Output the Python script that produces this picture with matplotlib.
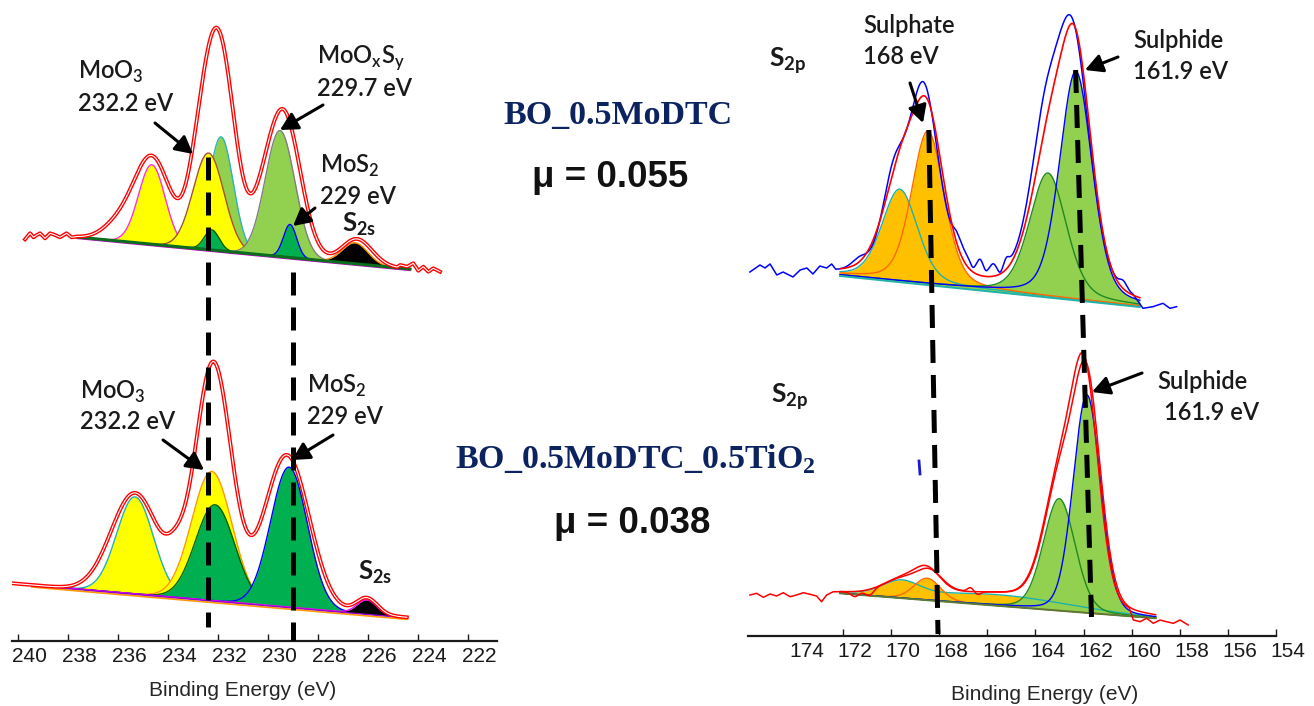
import numpy as np
import matplotlib
matplotlib.use("Agg")
import matplotlib.pyplot as plt
from matplotlib.transforms import ScaledTranslation, IdentityTransform
from matplotlib.patches import FancyArrowPatch
from matplotlib.lines import Line2D

W, H = 1314, 706

# ============================ DATA ============================
# ---- axes ----
mo_ticks = [240, 238, 236, 234, 232, 230, 228, 226, 224, 222]
mo_xlim = (240.264, 220.852)
s_ticks = [174, 172, 170, 168, 166, 164, 162, 160, 158, 156, 154]
s_xlim = (175.948, 154.003)

# ---- Mo 3d, BO_0.5MoDTC (upper left trace) ----
mo1_bg = [237.66, 404.0, 223.13, 369.1]          # background: E0, I0, E1, I1
mo1_range = [237.65, 224.33]
mo1_center = [231.89, 234.66, 232.39, 232.26, 229.53, 229.13, 226.53]
mo1_height = [114, 79.5, 96.6, 20, 126, 33, 21]
mo1_fwhm = [1.15, 1.25, 1.45, 0.7, 1.4, 0.62, 1.2]
mo1_raw_center = [236.0, 234.65, 232.8, 232.0, 230.3, 229.41, 226.45]
mo1_raw_height = [15, 87, 40, 212, 15, 146, 25]
mo1_raw_fwhm = [1.5, 1.7, 1.1, 1.5, 1.0, 1.6, 1.4]
mo1_raw_range = [237.66, 224.85]
mo1_tailL_E = [239.73, 239.53, 239.39, 239.26, 239.13, 238.93, 238.73, 238.53, 238.33, 238.07, 237.87]
mo1_tailL_I = [401.7, 407.7, 403.7, 406, 407.7, 402.7, 407.7, 406, 403.7, 407.7, 403.7]
mo1_tailR_E = [224.72, 224.45, 224.2, 224.0, 223.8, 223.6, 223.4, 223.13]
mo1_tailR_I = [376, 374.3, 377.7, 370.3, 374.3, 369.3, 372.7, 369.3]

# ---- Mo 3d, BO_0.5MoDTC_0.5TiO2 (lower left trace) ----
mo2_bg = [239.46, 56.0, 224.46, 23.7]
mo2_range = [239.46, 224.46]
mo2_center = [235.33, 232.26, 232.13, 229.17, 226.06]
mo2_height = [97, 129, 96, 140, 14]
mo2_fwhm = [1.73, 1.9, 1.85, 1.73, 0.9]
mo2_raw_center = [235.33, 233.7, 232.2, 229.26, 226.06]
mo2_raw_height = [101, 20, 238, 152, 16]
mo2_raw_fwhm = [2.24, 0.9, 1.7, 2.1, 1.0]
mo2_raw_range = [240.26, 224.46]

# ---- S 2p, BO_0.5MoDTC (upper right trace) ----
s1_bg = [172.12, 361.0, 159.66, 330.0]
s1_range = [172.12, 159.66]
s1_center = [169.64, 168.47, 163.48, 162.32]
s1_height = [92, 153, 123.5, 228]
s1_fwhm = [1.75, 1.6, 1.8, 1.6]
s1_raw_center = [171.3, 169.9, 168.65, 167.2, 166.2, 163.65, 162.45, 160.35,
                 167.3, 166.6, 166.3, 166.05, 165.75, 165.47, 165.2]
s1_raw_height = [10, 85, 190, 14, 12, 130, 252, 8,
                 4, -6, 6, -6, 3, -7, 6]
s1_raw_fwhm = [0.8, 1.2, 1.5, 0.7, 2.5, 1.5, 1.7, 0.4,
               0.3, 0.25, 0.25, 0.25, 0.25, 0.25, 0.25]
s1_raw_range = [172.3, 159.95]
s1_tailL_E = [175.87, 175.45, 175.24, 175.03, 174.75, 174.49, 174.08, 173.78, 173.5, 173.25, 172.96, 172.68, 172.47]
s1_tailL_I = [364, 371, 368, 372, 361, 364, 359, 366, 368, 362, 370, 368, 372]
s1_tailR_E = [159.53, 159.12, 158.7, 158.41, 158.13]
s1_tailR_I = [327.7, 329.3, 332.7, 327.7, 329.3]

# ---- S 2p, BO_0.5MoDTC_0.5TiO2 (lower right trace) ----
s2_bg = [172.12, 42.7, 159.0, 17.7]
s2_range = [172.12, 159.0]
s2_center = [165.5, 169.6, 168.5, 163.01, 161.86]
s2_height = [11, 14, 22, 112, 218]
s2_fwhm = [7.0, 1.8, 1.3, 1.55, 1.35]
s2_group = [0, 0, 1, 2, 3]
s2_raw_center = [171.5, 170.9, 169.6, 168.4, 165.5, 166.7, 166.4, 163.05, 161.95]
s2_raw_height = [-5, -6, 14, 20, 11, 4, -3, 110, 222]
s2_raw_fwhm = [0.4, 0.4, 1.8, 1.3, 7.0, 0.3, 0.3, 1.55, 1.35]
s2_raw_range = [172.12, 160.1]
s2_tailL_E = [175.87, 175.59, 175.31, 175.03, 174.76, 174.48, 174.2, 173.93, 173.65, 173.37, 173.1, 172.89, 172.68, 172.4]
s2_tailL_I = [41, 42.7, 38.7, 42, 40, 43.3, 39.3, 41, 43.3, 41.7, 40, 34.3, 41, 44.3]
s2_tailR_E = [159.93, 159.65, 159.38, 159.1, 158.82, 158.55, 158.27, 157.99, 157.65]
s2_tailR_I = [16, 14.3, 17.7, 12.7, 16, 14.3, 12.7, 16, 11]

# ---- reference (dashed) lines: (E_top, I_top, E_bottom, I_bottom) ----
mo_marks = [[232.41, 484, 232.41, 14], [229.01, 369, 229.01, 0]]
s_marks = [[168.43, 506, 168.05, 2], [162.33, 566, 161.67, 19]]

# ============================ STYLES ============================
YEL, LGR, DGR, ORG = "#ffff00", "#92d050", "#00b050", "#ffc000"
mo1_face = [LGR, YEL, YEL, DGR, LGR, DGR, "#000000"]
mo1_edge = ["#2bb5b5", "#ff33cc", "#a0522d", "#006400", "#808080", "#0000ff", "#ff8c00"]
mo2_face = [YEL, YEL, DGR, DGR, "#000000"]
mo2_edge = ["#20b2aa", "#ff9900", "#006400", "#0000ff", "#ff00ff"]
s1_face = [ORG, ORG, LGR, LGR]
s1_edge = ["#20b2aa", "#ff6a00", "#1f8a1f", "#0000ff"]
s2_face = [ORG, ORG, LGR, LGR]
s2_edge = ["#20b2aa", "#ff6a00", "#1f8a1f", "#0000ff"]

plt.rcParams["font.family"] = ["Lato", "DejaVu Sans"]
plt.rcParams["mathtext.fontset"] = "custom"
plt.rcParams["mathtext.rm"] = "Lato"


def pv(E, c, h, w, eta=0.0):
    x = (E - c) / w
    g = np.exp(-4 * np.log(2) * x ** 2)
    l = 1.0 / (1.0 + 4 * x ** 2)
    return h * ((1 - eta) * g + eta * l)


def linbg(E, bg):
    e0, i0, e1, i1 = bg
    return i0 + (E - e0) * (i1 - i0) / (e1 - e0)


def components(ax, rng, bg, cen, hei, fw, faces, edges, eta, groups=None,
               edges_on_top=False, z=2):
    E = np.linspace(rng[0], rng[1], 800)
    base = linbg(E, bg)
    if groups is None:
        groups = list(range(len(cen)))
    ng = max(groups) + 1
    parts = [np.zeros_like(E) for _ in range(ng)]
    for c, h, w, g in zip(cen, hei, fw, groups):
        parts[g] += pv(E, c, h, w, eta)
    total = np.zeros_like(E)
    for i, p in enumerate(parts):
        total += p
        ax.fill_between(E, base, base + p, color=faces[i], lw=0, zorder=z + i * 0.1)
        if not edges_on_top:
            ax.plot(E, base + p, color=edges[i], lw=1.0, zorder=z + i * 0.1 + 0.05)
    if edges_on_top:
        for i, p in enumerate(parts):
            ax.plot(E, base + p, color=edges[i], lw=1.0, zorder=z + 1)
    return E, base, total


def raw_curve(rng, bg, cen, hei, fw, eta, tl_E=(), tl_I=(), tr_E=(), tr_I=()):
    E = np.linspace(rng[0], rng[1], 700)
    I = linbg(E, bg)
    for c, h, w in zip(cen, hei, fw):
        I = I + pv(E, c, h, w, eta)
    Ex = np.concatenate([np.asarray(tl_E, float), E, np.asarray(tr_E, float)])
    Ix = np.concatenate([np.asarray(tl_I, float), I, np.asarray(tr_I, float)])
    return Ex, Ix


fig = plt.figure(figsize=(W / 100, H / 100), dpi=100)
fig.patch.set_facecolor("white")
axL = fig.add_axes([11.7 / W, (H - 641) / H, (497 - 11.7) / W, 641 / H])
axR = fig.add_axes([748 / W, (H - 636) / H, (1276 - 748) / W, 636 / H])

for ax, ticks, xl, top, offs in [(axL, mo_ticks, mo_xlim, 641, 11), (axR, s_ticks, s_xlim, 636, 12)]:
    ax.set_xlim(*xl)
    ax.set_ylim(0, top)
    ax.patch.set_alpha(0)
    for sp in ["top", "left", "right"]:
        ax.spines[sp].set_visible(False)
    ax.spines["bottom"].set_linewidth(1.6)
    ax.spines["bottom"].set_color("#1a1a1a")
    ax.yaxis.set_visible(False)
    ax.set_xticks(ticks)
    ax.set_xticklabels([str(t) for t in ticks])
    ax.tick_params(axis="x", direction="in", length=5, width=1.0, pad=4,
                   labelsize=15, colors="#1a1a1a")
    for lab in ax.get_xticklabels():
        lab.set_family("Liberation Sans")
        lab.set_transform(lab.get_transform() + ScaledTranslation(offs / 100, 0, fig.dpi_scale_trans))
    ax.set_xlabel("Binding Energy (eV)", fontsize=15, family="Liberation Sans", color="#262626")
    ax.xaxis.label.set_va("center")
axR.xaxis.get_major_ticks()[0].tick1line.set_visible(False)
axL.xaxis.set_label_coords((243 - 11.7) / 485.3, -(690 - 641) / 641)
axR.xaxis.set_label_coords((1045 - 748) / 528, -(695 - 636) / 636)

# ---------------- left: Mo 3d ----------------
components(axL, mo1_range, mo1_bg, mo1_center, mo1_height, mo1_fwhm, mo1_face, mo1_edge, 0.0)
Eb = np.linspace(mo1_range[0], mo1_range[1], 200)
axL.plot(Eb, linbg(Eb, mo1_bg) - 1.5, color="#cc00cc", lw=0.9, zorder=2.9)
axL.plot(Eb, linbg(Eb, mo1_bg), color="#0a6e1e", lw=2.2, zorder=2.95)
E, I = raw_curve(mo1_raw_range, mo1_bg, mo1_raw_center, mo1_raw_height, mo1_raw_fwhm, 0.0,
                 mo1_tailL_E, mo1_tailL_I, mo1_tailR_E, mo1_tailR_I)
axL.plot(E, I, color="#ff0000", lw=2.8, zorder=5)
axL.plot(E, I, color="white", lw=0.8, zorder=5.1)

components(axL, mo2_range, mo2_bg, mo2_center, mo2_height, mo2_fwhm, mo2_face, mo2_edge, 0.0)
Eb = np.linspace(mo2_range[0], mo2_range[1], 200)
axL.plot(Eb, linbg(Eb, mo2_bg) - 2.0, color="#ff9900", lw=1.2, zorder=2.8)
axL.plot(Eb, linbg(Eb, mo2_bg) - 0.5, color="#9900cc", lw=0.9, zorder=2.9)
E, I = raw_curve(mo2_raw_range, mo2_bg, mo2_raw_center, mo2_raw_height, mo2_raw_fwhm, 0.0)
axL.plot(E, I, color="#ff0000", lw=2.8, zorder=5)
axL.plot(E, I, color="white", lw=0.8, zorder=5.1)

# ---------------- right: S 2p ----------------
E, base, tot = components(axR, s1_range, s1_bg, s1_center, s1_height, s1_fwhm, s1_face, s1_edge,
                          0.3, edges_on_top=True)
axR.plot(E, base - 1, color="#20b2aa", lw=1.4, zorder=3.2)
Er, Ir = raw_curve(s1_raw_range, s1_bg, s1_raw_center, s1_raw_height, s1_raw_fwhm, 0.3,
                   s1_tailL_E, s1_tailL_I, s1_tailR_E, s1_tailR_I)
axR.plot(Er, Ir, color="#0000ff", lw=1.1, zorder=5)
axR.plot(E, base + tot, color="#ff0000", lw=1.2, zorder=5.2)

E, base, tot = components(axR, s2_range, s2_bg, s2_center, s2_height, s2_fwhm, s2_face, s2_edge,
                          0.15, groups=s2_group, edges_on_top=True)
axR.plot(E, base, color="#5a7a3a", lw=1.4, zorder=3.2)
Er, Ir = raw_curve(s2_raw_range, s2_bg, s2_raw_center, s2_raw_height, s2_raw_fwhm, 0.15,
                   s2_tailL_E, s2_tailL_I, s2_tailR_E, s2_tailR_I)
axR.plot(Er, Ir, color="#ff0000", lw=1.1, zorder=5)
axR.plot(E, base + tot, color="#ff0000", lw=1.1, zorder=5.2)

# ---------------- dashed reference lines ----------------
for ax, marks in [(axL, mo_marks), (axR, s_marks)]:
    for e0, i0, e1, i1 in marks:
        ln, = ax.plot([e0, e1], [i0, i1], color="black", lw=3.6, zorder=8,
                      solid_capstyle="butt", dash_capstyle="butt")
        ln.set_dashes([4.6, 2.4])

# ---------------- annotations ----------------
def px(x, y):
    return x / W, 1 - y / H

TXT = "#1a1a1a"
lab_fs = 17


def label(x, y, s, fs=lab_fs, weight="semibold", **kw):
    fig.text(*px(x, y), s, fontsize=fs, color=TXT, ha="left", va="baseline",
             weight=weight, family=["Lato", "DejaVu Sans"], **kw)


label(78, 79, r"MoO$_\mathregular{3}$")
label(78, 111, "232.2 eV")
label(317, 64, r"MoO$_\mathregular{x}$S$_\mathregular{y}$")
label(317, 96, "229.7 eV")
label(320, 173, r"MoS$_\mathregular{2}$")
label(320, 204, "229 eV")
label(342, 232, r"S$_\mathregular{2s}$", fs=18.5, weight="bold")

label(80, 399, r"MoO$_\mathregular{3}$")
label(80, 429, "232.2 eV")
label(307, 393, r"MoS$_\mathregular{2}$")
label(307, 424, "229 eV")
label(358, 580, r"S$_\mathregular{2s}$", fs=18.5, weight="bold")

label(863, 33, "Sulphate")
label(863, 64, "168 eV")
label(1133, 48, "Sulphide")
label(1133, 79, "161.9 eV")
label(769, 66, r"S$_\mathregular{2p}$", fs=19, weight="bold")
label(771, 403, r"S$_\mathregular{2p}$", fs=19, weight="bold")
label(1157, 389, "Sulphide")
label(1164, 420, "161.9 eV")

NAVY = "#0d2360"
fig.text(*px(617.5, 124), "BO_0.5MoDTC", fontsize=24.5, color=NAVY, weight="bold",
         family="Liberation Serif", ha="center", va="baseline")
fig.text(*px(455, 468), r"BO_0.5MoDTC_0.5TiO$_\mathregular{2}$", fontsize=24.5, color=NAVY,
         weight="bold", family="Liberation Serif", ha="left", va="baseline")
fig.text(*px(610, 187), "\u03bc = 0.055", fontsize=26.5, color="#111111", weight="bold",
         family="Liberation Sans", ha="center", va="baseline")
fig.text(*px(632, 533), "\u03bc = 0.038", fontsize=26.5, color="#111111", weight="bold",
         family="Liberation Sans", ha="center", va="baseline")

arrows = [((155, 123), (193, 154)), ((323, 105), (280, 130)), ((315, 208), (293, 226)),
          ((163, 440), (204, 470)), ((333, 435), (292, 460)),
          ((910, 83), (923, 123)), ((1118, 57), (1085, 70)), ((1142, 373), (1092, 392))]
for (x0, y0), (x1, y1) in arrows:
    a = FancyArrowPatch((x0, H - y0), (x1, H - y1), transform=IdentityTransform(),
                        arrowstyle="-|>,head_length=0.75,head_width=0.4", mutation_scale=14,
                        lw=2.2, color="black", shrinkA=0, shrinkB=0, zorder=20)
    fig.add_artist(a)

fig.add_artist(Line2D([919 / W, 920 / W], [1 - 461 / H, 1 - 474 / H], color="#1a1acc", lw=2.0))

fig.savefig("out.png", dpi=100, facecolor="white")
